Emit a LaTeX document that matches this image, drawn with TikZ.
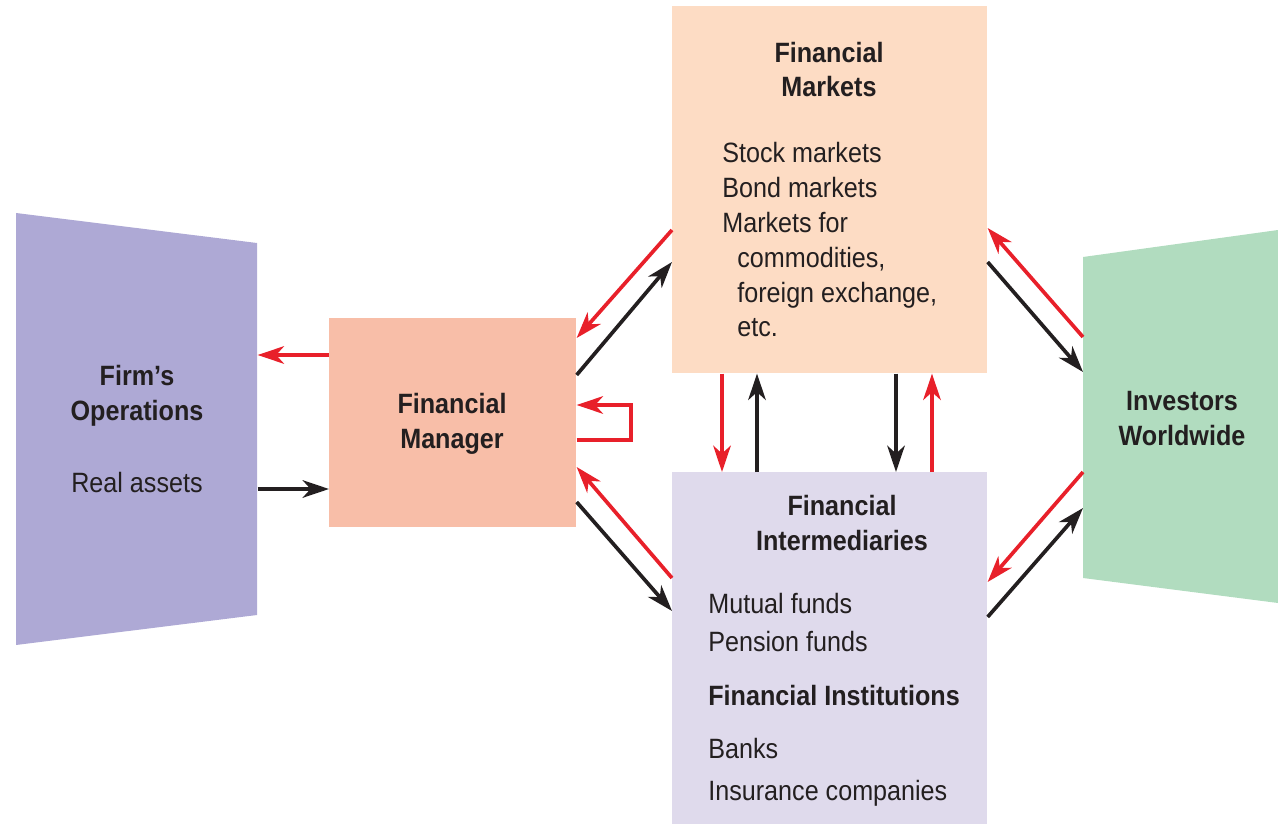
\documentclass[tikz,border=0pt]{standalone}
\usepackage{fontspec}
\setmainfont[FakeStretch=0.9]{Liberation Sans}
\usetikzlibrary{arrows.meta}

\definecolor{firmcol}{HTML}{AEA9D5}
\definecolor{mgrcol}{HTML}{F8BEA8}
\definecolor{mktcol}{HTML}{FDDCC4}
\definecolor{intcol}{HTML}{DFDAEC}
\definecolor{invcol}{HTML}{B1DCBF}
\definecolor{redline}{HTML}{E8202A}
\definecolor{inkcol}{HTML}{231F20}

\tikzset{
  blkarr/.style={line width=2.1pt, draw=inkcol, -{Stealth[length=15pt,width=10pt,inset=4.5pt]}},
  redarr/.style={blkarr, draw=redline},
  panel/.style={anchor=north west, inner sep=0pt},
  lbl/.style={text=inkcol, inner sep=0pt, anchor=base, font=\fontsize{15.9}{19.9}\selectfont},
  hd/.style={lbl, align=center, font=\fontsize{15.9}{19.9}\selectfont\bfseries},
}

\begin{document}
\begin{tikzpicture}[x=0.02cm,y=-0.02cm]
\useasboundingbox (0,0) rectangle (1278,824);

% side shapes
\fill[firmcol] (16,213) -- (257,243) -- (257,615) -- (16,645) -- cycle;
\node[panel, minimum width=4.82cm, minimum height=8.64cm] (firm) at (16,213) {};
\fill[invcol] (1083,257) -- (1278,230) -- (1278,603) -- (1083,578) -- cycle;
\node[panel, minimum width=3.9cm, minimum height=7.46cm] (inv) at (1083,230) {};

% boxes
\node[panel, fill=mgrcol, minimum width=4.94cm, minimum height=4.18cm] (fm) at (329,318) {};
\node[panel, fill=mktcol, minimum width=6.3cm, minimum height=7.34cm] (mk) at (672,6) {};
\node[panel, fill=intcol, minimum width=6.3cm, minimum height=7.04cm] (im) at (672,472) {};

% texts
\node[hd] (firmhd) at (137,420) {Firm’s\\Operations};
\node[lbl] (firmsub) at (137,492) {Real assets};
\node[hd] (fmhd) at (452,448) {Financial\\Manager};
\node[hd] (mkhd) at (829,97) {Financial\\Markets};
\node[lbl, align=left, anchor=base west] (mklist) at (722,337)
  {Stock markets\\Bond markets\\Markets for\\\hspace*{0.3cm}commodities,\\\hspace*{0.3cm}foreign exchange,\\\hspace*{0.3cm}etc.};
\node[hd] (imhd) at (842,550) {Financial\\Intermediaries};
\node[lbl, align=left, anchor=base west, font=\fontsize{15.9}{21.5}\selectfont] (imlist) at (708,800)
  {Mutual funds\\Pension funds\\[0.32cm]\textbf{Financial Institutions}\\[0.3cm]Banks\\[0.08cm]Insurance companies};
\node[hd] (invhd) at (1182,445) {Investors\\Worldwide};

% firm <-> manager
\draw[redarr] (fm.west |- 0,355) -- (firm.east |- 0,355);
\draw[blkarr] (firm.east |- 0,489) -- (fm.west |- 0,489);

% manager <-> markets, intermediaries
\draw[redarr] (mk.west |- 0,230) -- (fm.east |- 0,338);
\draw[blkarr] (fm.east |- 0,375) -- (mk.west |- 0,262);
\draw[redarr] (fm.east |- 0,440) -- ++(54,0) -- ++(0,-35) -- (fm.east |- 0,405);
\draw[redarr] (im.west |- 0,578) -- (fm.east |- 0,467);
\draw[blkarr] (fm.east |- 0,502) -- (im.west |- 0,611);

% markets <-> intermediaries
\draw[redarr] (mk.south -| 722,0) -- (im.north -| 722,0);
\draw[blkarr] (im.north -| 757,0) -- (mk.south -| 757,0);
\draw[blkarr] (mk.south -| 896,0) -- (im.north -| 896,0);
\draw[redarr] (im.north -| 932,0) -- (mk.south -| 932,0);

% investors
\draw[redarr] (inv.west |- 0,337) -- (mk.east |- 0,228);
\draw[blkarr] (mk.east |- 0,262) -- (inv.west |- 0,372);
\draw[redarr] (inv.west |- 0,472) -- (im.east |- 0,582);
\draw[blkarr] (im.east |- 0,617) -- (inv.west |- 0,508);

\end{tikzpicture}
\end{document}
